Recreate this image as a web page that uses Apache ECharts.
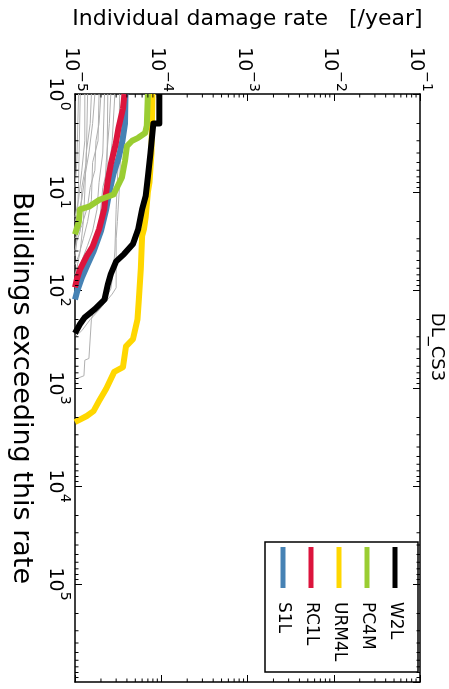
<!DOCTYPE html>
<html><head><meta charset="utf-8">
<script src="https://cdn.jsdelivr.net/npm/echarts@6/dist/echarts.min.js"></script>
<style>html,body{margin:0;padding:0;background:#fff}#c{width:449px;height:689px}</style>
</head><body><div id="c"></div><script>
// ---- data: [damage rate /year, buildings exceeding this rate] ----
const typologyNames = ['W2L', 'PC4M', 'URM4L', 'RC1L', 'S1L'];
const typologyColors = ['#000000', '#9acd32', '#ffd700', '#dc143c', '#4682b4'];
const W2L = [[9.5e-5,1],[9.5e-5,2],[8.1e-5,2],[7.5e-5,4],[7.0e-5,7],[6.6e-5,11],[6.0e-5,15],[5.4e-5,24],[4.7e-5,34],[3.7e-5,43],[3.0e-5,51],[2.6e-5,69],[2.4e-5,88],[2.2e-5,125],[1.7e-5,157],[1.3e-5,190],[1.14e-5,224],[1.0e-5,276]];
const PC4M = [[7.0e-5,1],[6.8e-5,2.1],[6.5e-5,2.5],[5.4e-5,2.8],[4.6e-5,3.0],[4.0e-5,3.4],[3.8e-5,4.8],[3.5e-5,7.1],[2.8e-5,10.6],[1.92e-5,12],[1.48e-5,14],[1.14e-5,15],[1.11e-5,20],[1.0e-5,27]];
const URM4L = [[7.9e-5,1],[7.7e-5,4],[7.3e-5,8],[7.0e-5,10],[6.6e-5,18],[6.3e-5,24],[6.0e-5,28],[5.8e-5,60],[5.5e-5,125],[5.3e-5,200],[4.7e-5,317],[3.9e-5,376],[3.6e-5,611],[2.85e-5,685],[2.3e-5,1018],[1.9e-5,1360],[1.64e-5,1720],[1.37e-5,1930],[1.11e-5,2130],[1.0e-5,2230]];
const RC1L = [[3.75e-5,1],[3.6e-5,1.4],[3.2e-5,2.2],[2.95e-5,3.3],[2.6e-5,5.2],[2.4e-5,7.7],[2.28e-5,10.6],[2.18e-5,15],[1.9e-5,24],[1.6e-5,36],[1.37e-5,45],[1.14e-5,62],[1.05e-5,78],[1.0e-5,94]];
const S1L = [[3.85e-5,1],[3.8e-5,2],[3.55e-5,3],[3.2e-5,4.5],[2.8e-5,6.5],[2.5e-5,10],[2.3e-5,15],[2.0e-5,25],[1.65e-5,40],[1.4e-5,55],[1.2e-5,75],[1.07e-5,100],[1.0e-5,125]];
// other typologies (grey)
const greyA = [[1.3e-5,1],[1.3e-5,3],[1.2e-5,6],[1.1e-5,12],[1.0e-5,18]];
const greyB = [[1.15e-5,1],[1.1e-5,8],[1.05e-5,30],[1.0e-5,40]];
const greyC = [[1.55e-5,1],[1.5e-5,2],[1.35e-5,4],[1.3e-5,10],[1.25e-5,20],[1.15e-5,40],[1.05e-5,60],[1.0e-5,70]];
const greyD = [[1.9e-5,1],[1.85e-5,3],[1.6e-5,5],[1.55e-5,12],[1.4e-5,20],[1.25e-5,30],[1.1e-5,45],[1.0e-5,55]];
const greyE = [[2.2e-5,1],[2.1e-5,4],[1.9e-5,8],[1.8e-5,15],[1.6e-5,25],[1.4e-5,35],[1.2e-5,50],[1.05e-5,70],[1.0e-5,80]];
const greyF = [[2.6e-5,1],[2.5e-5,2],[2.3e-5,5],[2.2e-5,10],[2.1e-5,20],[1.8e-5,35],[1.5e-5,50],[1.3e-5,70],[1.1e-5,100],[1.0e-5,110]];
const greyG = [[3.3e-5,1],[3.2e-5,4],[3.0e-5,15],[2.9e-5,40],[2.75e-5,70],[2.6e-5,98],[2.2e-5,125],[1.6e-5,180],[1.55e-5,199],[1.45e-5,500],[1.3e-5,520],[1.27e-5,750],[1.0e-5,815]];
const greyH = [[3.5e-5,1],[3.4e-5,3],[3.3e-5,8],[3.1e-5,20],[3.0e-5,30],[3.0e-5,95],[2.7e-5,110],[2.3e-5,130],[1.9e-5,160],[1.5e-5,200],[1.2e-5,260],[1.0e-5,300]];
const greyI = [[1.1e-5,1],[1.05e-5,5],[1.0e-5,9]];
const greyJ = [[2.0e-5,1],[1.9e-5,2],[1.75e-5,3],[1.7e-5,6],[1.5e-5,9],[1.4e-5,14],[1.2e-5,22],[1.0e-5,30]];
const greyK = [[2.9e-5,1],[2.7e-5,3],[2.5e-5,6],[2.3e-5,12],[2.0e-5,22],[1.7e-5,35],[1.4e-5,55],[1.2e-5,80],[1.0e-5,100]];
const greyL = [[1.7e-5,1],[1.6e-5,2],[1.45e-5,4],[1.3e-5,7],[1.2e-5,12],[1.1e-5,16],[1.0e-5,20]];
const greyM = [[2.4e-5,1],[2.35e-5,6],[2.1e-5,9],[1.95e-5,18],[1.75e-5,28],[1.5e-5,40],[1.3e-5,60],[1.1e-5,85],[1.0e-5,95]];
const greyN = [[1.4e-5,1],[1.35e-5,5],[1.2e-5,9],[1.15e-5,25],[1.05e-5,32],[1.0e-5,45]];
const greyCurves = [greyA, greyB, greyC, greyD, greyE, greyF, greyG, greyH, greyI, greyJ, greyK, greyL, greyM, greyN];
const rateRange = [1e-5, 1e-1];
const countRange = [1, 1e6];
const titleText = 'DL_CS3';
const rateAxisName = 'Individual damage rate   [/year]';
const countAxisName = 'Buildings exceeding this rate';

// minor tick values (axis decoration)
const rateMinor = [], countMinor = [];
for (let k = -5; k < -1; k++) for (let m = 2; m < 10; m++) rateMinor.push([m * Math.pow(10, k), 1]);
for (let k = 0; k < 6; k++) for (let m = 2; m < 10; m++) countMinor.push([1e-5, m * Math.pow(10, k)]);

const FONT = '"DejaVu Sans", sans-serif';
function powLabel(v) {
  const e = Math.round(Math.log10(v));
  return '{b|10}{s|' + (e < 0 ? '\u2212' + (-e) : e) + '}';
}
const labelRich = {
  b: { fontSize: 19, fontFamily: FONT, color: '#000', verticalAlign: 'bottom', lineHeight: 27 },
  s: { fontSize: 14, fontFamily: FONT, color: '#000', verticalAlign: 'top', lineHeight: 27 }
};
const lineAxis = { lineStyle: { color: '#000', width: 1.5 } };
const tick = { inside: true, length: 7, lineStyle: { color: '#000', width: 1 } };

const chart = echarts.init(document.getElementById('c'), null, { renderer: 'canvas' });
const series = [];
greyCurves.forEach((d, i) => series.push({
  type: 'line', name: 'other' + i, data: d, showSymbol: false, silent: true,
  lineStyle: { color: '#b0b0b0', width: 1 }, z: 1
}));
const drawOrder = ['S1L', 'RC1L', 'URM4L', 'PC4M', 'W2L'];
const dataByName = { W2L, PC4M, URM4L, RC1L, S1L };
drawOrder.forEach((n, i) => series.push({
  type: 'line', name: n, data: dataByName[n], showSymbol: false, silent: true,
  lineStyle: { color: typologyColors[typologyNames.indexOf(n)], width: 6, join: 'round' }, z: 2 + i
}));
series.push({
  type: 'custom', data: rateMinor, silent: true, z: 10, encode: { x: 0, y: 1 },
  renderItem: (p, api) => {
    const t = api.coord([api.value(0), countRange[0]]);
    const b = api.coord([api.value(0), countRange[1]]);
    return { type: 'group', children: [
      { type: 'line', shape: { x1: t[0], y1: t[1], x2: t[0], y2: t[1] + 3.5 }, style: { stroke: '#000', lineWidth: 1 } },
      { type: 'line', shape: { x1: b[0], y1: b[1], x2: b[0], y2: b[1] - 3.5 }, style: { stroke: '#000', lineWidth: 1 } }
    ] };
  }
});
series.push({
  type: 'custom', data: countMinor, silent: true, z: 10, encode: { x: 0, y: 1 },
  renderItem: (p, api) => {
    const l = api.coord([rateRange[0], api.value(1)]);
    const r = api.coord([rateRange[1], api.value(1)]);
    return { type: 'group', children: [
      { type: 'line', shape: { x1: l[0], y1: l[1], x2: l[0] + 3.5, y2: l[1] }, style: { stroke: '#000', lineWidth: 1 } },
      { type: 'line', shape: { x1: r[0], y1: r[1], x2: r[0] - 3.5, y2: r[1] }, style: { stroke: '#000', lineWidth: 1 } }
    ] };
  }
});

// legend drawn rotated (as in the rotated figure)
const legendChildren = [{ type: 'rect', shape: { x: 0, y: 0, width: 130, height: 153 }, style: { fill: '#fff', stroke: '#000', lineWidth: 1.5 } }];
typologyNames.forEach((n, i) => {
  const ly = 23 + i * 28;
  legendChildren.push({ type: 'line', shape: { x1: 5, y1: ly, x2: 46, y2: ly }, style: { stroke: typologyColors[i], lineWidth: 5 } });
  legendChildren.push({ type: 'text', x: 60, y: ly, style: { text: n, font: '17px ' + FONT, fill: '#000', align: 'left', verticalAlign: 'middle' } });
});

chart.setOption({
  animation: false,
  backgroundColor: '#fff',
  grid: { left: 68, right: 29, top: 94, bottom: 7 },
  xAxis: [
    { type: 'log', min: rateRange[0], max: rateRange[1], interval: 1, position: 'top',
      name: rateAxisName, nameLocation: 'middle', nameGap: 64,
      nameTextStyle: { fontSize: 22, fontFamily: FONT, color: '#000' },
      axisLine: lineAxis, axisTick: tick, splitLine: { show: false }, minorTick: { show: false },
      axisLabel: { rotate: 90, margin: 2, formatter: powLabel, rich: labelRich } },
    { type: 'log', min: rateRange[0], max: rateRange[1], interval: 1, position: 'bottom',
      axisLine: lineAxis, axisTick: tick, splitLine: { show: false }, axisLabel: { show: false } }
  ],
  yAxis: [
    { type: 'log', min: countRange[0], max: countRange[1], interval: 1, inverse: true, position: 'left',
      name: countAxisName, nameLocation: 'middle', nameGap: 40, nameRotate: -90,
      nameTextStyle: { fontSize: 27, fontFamily: FONT, color: '#000' },
      axisLine: lineAxis, axisTick: tick, splitLine: { show: false },
      axisLabel: { rotate: -90, margin: 3, showMaxLabel: false, formatter: powLabel, rich: labelRich } },
    { type: 'log', min: countRange[0], max: countRange[1], interval: 1, inverse: true, position: 'right',
      axisLine: lineAxis, axisTick: tick, splitLine: { show: false }, axisLabel: { show: false } }
  ],
  series: series,
  graphic: [
    { type: 'text', x: 437, y: 347, rotation: -Math.PI / 2,
      style: { text: titleText, font: '18px ' + FONT, fill: '#000', align: 'center', verticalAlign: 'middle' } },
    { type: 'group', x: 418, y: 542, rotation: -Math.PI / 2, children: legendChildren }
  ]
});
</script></body></html>
